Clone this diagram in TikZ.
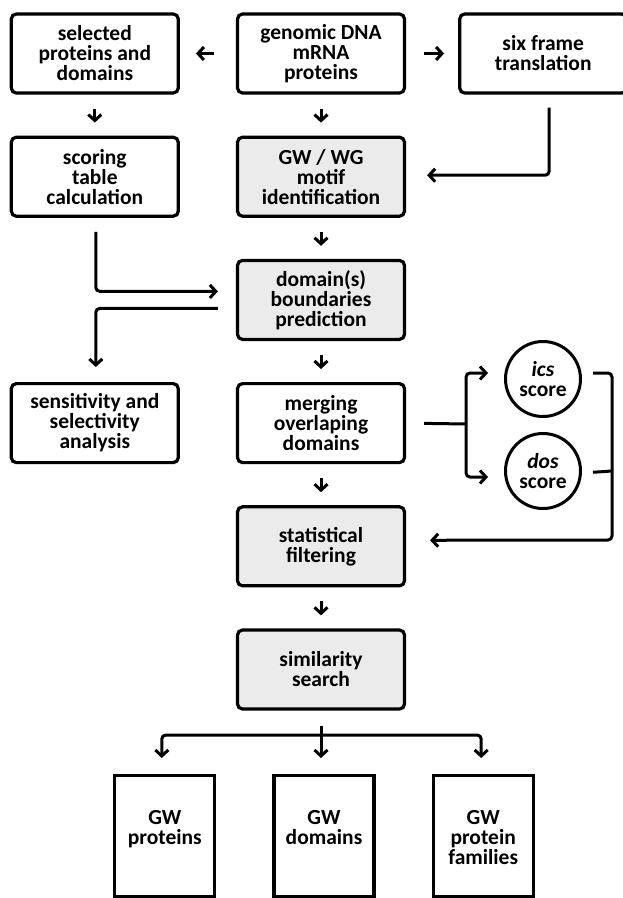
\documentclass[tikz,border=0pt]{standalone}
\usepackage{fontspec}
\setmainfont{Carlito}
\usetikzlibrary{positioning,arrows.meta}
\definecolor{boxgray}{HTML}{EBEBEB}
\tikzset{
    flow/.style={draw,line width=3.2pt,rounded corners=5pt,minimum width=167pt,minimum height=79pt,align=center,inner sep=2pt},
    core/.style={flow,fill=boxgray},
    result/.style={draw,line width=3.2pt,minimum width=100pt,minimum height=121pt},
    scorenode/.style={circle,draw,line width=3pt,minimum size=75pt,inner sep=0pt,align=center},
    link/.style={line width=3pt,rounded corners=4pt},
    arr/.style={link,-{Straight Barb[length=6pt,width=13pt]}},
}

\begin{document}
\begin{tikzpicture}[x=1pt,y=-1pt,node distance=41pt and 56pt,font=\fontsize{21.5pt}{20pt}\selectfont\bfseries]
    \useasboundingbox (0,0) rectangle (622,898);
    \node[flow] (gen) at (321,53.5) {genomic DNA\\mRNA\\proteins};
    \node[flow,left=of gen] (sel) {selected\\proteins and\\domains};
    \node[flow,right=52pt of gen] (six) {six frame\\translation};
    \node[core,below=of gen] (gw) {GW / WG\\motif\\identification};
    \node[flow,below=of sel] (score) {scoring\\table\\calculation};
    \node[core,below=of gw] (dom) {domain(s)\\boundaries\\prediction};
    \node[flow,below=of dom] (merge) {merging\\overlaping\\domains};
    \node[flow,left=of merge] (sens) {sensitivity and\\selectivity\\analysis};
    \node[scorenode] (ics) at (543,379) {\textit{ics}\\score};
    \node[scorenode] (dos) at (543,471) {\textit{dos}\\score};
    \node[core,below=of merge] (stat) {statistical\\filtering};
    \node[core,below=of stat] (sim) {similarity\\search};
    \node[result,anchor=north] (outd) at (324,774) {};
    \node[result,left=56pt of outd] (outp) {};
    \node[result,right=56pt of outd] (outf) {};
    \node[below=33pt of outp.north,align=center] (outptxt) {GW\\proteins};
    \node[below=33pt of outd.north,align=center] (outdtxt) {GW\\domains};
    \node[below=33pt of outf.north,align=center] (outftxt) {GW\\protein\\families};
    \coordinate (fork) at (466,424);
    \coordinate (rail) at (612,540);
    \coordinate (split) at (321,735);

    % short arrows
    \draw[arr,shorten <=22pt,shorten >=16pt] (gen) -- (sel);
    \draw[arr,shorten <=18pt,shorten >=14pt] (gen) -- (six);
    \draw[arr,shorten <=14pt,shorten >=13pt] (sel) -- (score);
    \draw[arr,shorten <=14pt,shorten >=13pt] (gen) -- (gw);
    \draw[arr,shorten <=14pt,shorten >=13pt] (gw) -- (dom);
    \draw[arr,shorten <=14pt,shorten >=13pt] (dom) -- (merge);
    \draw[arr,shorten <=14pt,shorten >=13pt] (merge) -- (stat);
    \draw[arr,shorten <=14pt,shorten >=13pt] (stat) -- (sim);

    % elbows
    \draw[arr,shorten <=13pt,shorten >=21pt] ([xshift=6pt]six.south) |- ([yshift=1.5pt]gw.east);
    \draw[arr,shorten <=14pt,shorten >=18pt] ([xshift=1pt]score.south) |- ([yshift=8.5pt]dom.west);
    \draw[arr,shorten <=18pt,shorten >=15pt] ([yshift=-8.5pt]dom.west) -| ([xshift=1pt]sens.north);

    % scores
    \draw[link,shorten <=18pt] (merge.east) -- (fork);
    \draw[arr,shorten >=16pt] (fork) |- ([yshift=6pt]ics.west);
    \draw[arr,shorten >=16pt] (fork) |- ([yshift=-6pt]dos.west);
    \draw[arr,shorten <=11pt,shorten >=24pt] ([yshift=6pt]ics.east) -| (rail) -- ([yshift=6pt]stat.east);
    \draw[link,shorten <=11pt] ([yshift=-2pt]dos.east) -- (dos.east -| rail);

    % results
    \draw[link,shorten <=15pt] (sim.south) -- (split);
    \draw[arr,shorten >=16pt] (split) -| ([xshift=-3pt]outp.north);
    \draw[arr,shorten >=16pt] (split) -- (split |- outd.north);
    \draw[arr,shorten >=16pt] (split) -| ([xshift=-2pt]outf.north);
\end{tikzpicture}
\end{document}
